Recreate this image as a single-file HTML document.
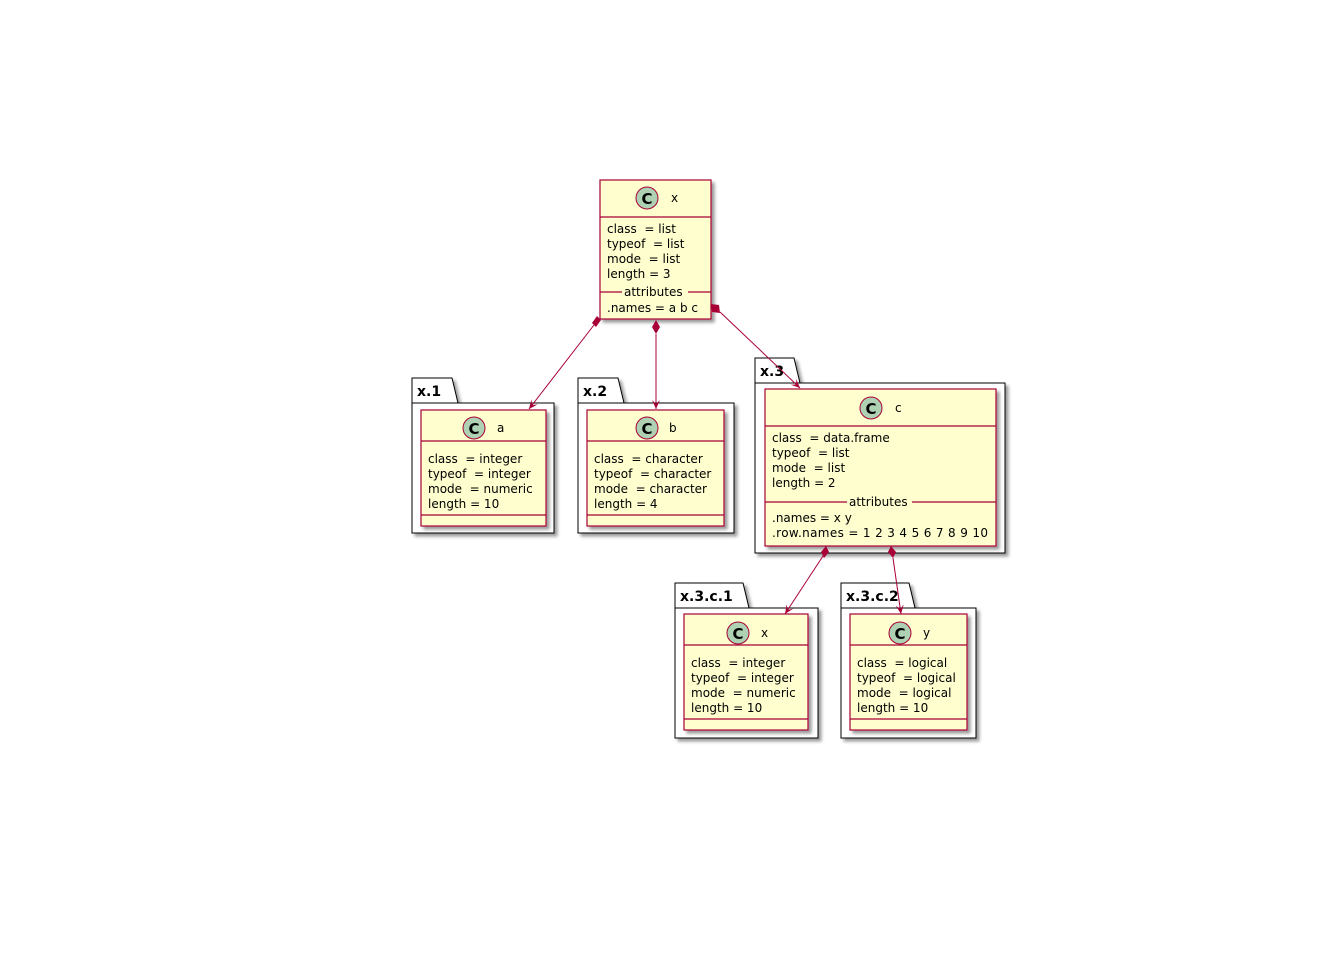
<!DOCTYPE html>
<html><head><meta charset="utf-8"><style>
html,body{margin:0;padding:0;background:#fff;}
svg{display:block;}
text{font-family:"DejaVu Sans","Liberation Sans",sans-serif;font-size:12px;fill:#000;white-space:pre;}
.pk{font-weight:bold;font-size:14px;}
.c{font-weight:bold;font-size:15px;}
</style></head><body>
<svg width="1344" height="960" viewBox="0 0 1344 960" xmlns="http://www.w3.org/2000/svg" xml:space="preserve">
<defs>
<filter id="sh" x="-10%" y="-10%" width="130%" height="130%"><feDropShadow dx="3" dy="3" stdDeviation="1.5" flood-color="#000" flood-opacity="0.4"/></filter>
<marker id="ar" markerWidth="10" markerHeight="10" refX="9" refY="5" orient="auto" markerUnits="userSpaceOnUse"><path d="M0,1 L9,5 L0,9 L4,5 Z" fill="#A80036"/></marker>
</defs>
<g stroke="#000" fill="#fff" stroke-width="1">
<path d="M412,378 H452 L458,403 H554 V533 H412 Z" filter="url(#sh)"/>
<line x1="412" y1="403" x2="458" y2="403"/>
<path d="M578,378 H618 L624,403 H734 V533 H578 Z" filter="url(#sh)"/>
<line x1="578" y1="403" x2="624" y2="403"/>
<path d="M755,358 H794 L800,383 H1005 V553 H755 Z" filter="url(#sh)"/>
<line x1="755" y1="383" x2="800" y2="383"/>
<path d="M675,583 H743 L749,608 H818 V738 H675 Z" filter="url(#sh)"/>
<line x1="675" y1="608" x2="749" y2="608"/>
<path d="M841,583 H909 L915,608 H976 V738 H841 Z" filter="url(#sh)"/>
<line x1="841" y1="608" x2="915" y2="608"/>
</g>
<text class="pk" x="417" y="396">x.1</text>
<text class="pk" x="583" y="396">x.2</text>
<text class="pk" x="760" y="376">x.3</text>
<text class="pk" x="680" y="601">x.3.c.1</text>
<text class="pk" x="846" y="601">x.3.c.2</text>

<g stroke="#A80036" fill="#FEFECE" stroke-width="1.2">
<rect x="600" y="180" width="111" height="139" filter="url(#sh)"/>
<rect x="421" y="410" width="125" height="116" filter="url(#sh)"/>
<rect x="587" y="410" width="137" height="116" filter="url(#sh)"/>
<rect x="765" y="389" width="231" height="157" filter="url(#sh)"/>
<rect x="684" y="614" width="124" height="116" filter="url(#sh)"/>
<rect x="850" y="614" width="117" height="116" filter="url(#sh)"/>
<line x1="600" y1="217" x2="711" y2="217"/>
<line x1="600" y1="292" x2="622" y2="292"/><line x1="688" y1="292" x2="711" y2="292"/>
<line x1="421" y1="441" x2="546" y2="441"/><line x1="421" y1="515" x2="546" y2="515"/>
<line x1="587" y1="441" x2="724" y2="441"/><line x1="587" y1="515" x2="724" y2="515"/>
<line x1="765" y1="426" x2="996" y2="426"/>
<line x1="765" y1="502" x2="847" y2="502"/><line x1="912" y1="502" x2="996" y2="502"/>
<line x1="684" y1="645" x2="808" y2="645"/><line x1="684" y1="719" x2="808" y2="719"/>
<line x1="850" y1="645" x2="967" y2="645"/><line x1="850" y1="719" x2="967" y2="719"/>
</g>
<g fill="#ADD1B2" stroke="#A80036" stroke-width="1">
<circle cx="647" cy="198" r="11"/><circle cx="474" cy="428" r="11"/>
<circle cx="647" cy="428" r="11"/><circle cx="871" cy="408" r="11"/>
<circle cx="738" cy="633" r="11"/><circle cx="900" cy="633" r="11"/>
</g>
<g text-anchor="middle">
<text class="c" x="647" y="204">C</text><text class="c" x="474" y="434">C</text>
<text class="c" x="647" y="434">C</text><text class="c" x="871" y="414">C</text>
<text class="c" x="738" y="639">C</text><text class="c" x="900" y="639">C</text>
</g>
<text x="671" y="202">x</text><text x="497" y="432">a</text><text x="669" y="432">b</text>
<text x="895" y="412">c</text><text x="761" y="637">x</text><text x="923" y="637">y</text>

<text x="607" y="233">class  = list</text><text x="607" y="248">typeof  = list</text>
<text x="607" y="263">mode  = list</text><text x="607" y="278">length = 3</text>
<text x="624" y="296">attributes</text><text x="607" y="312">.names = a b c</text>

<text x="428" y="463">class  = integer</text><text x="428" y="478">typeof  = integer</text>
<text x="428" y="493">mode  = numeric</text><text x="428" y="508">length = 10</text>

<text x="594" y="463">class  = character</text><text x="594" y="478">typeof  = character</text>
<text x="594" y="493">mode  = character</text><text x="594" y="508">length = 4</text>

<text x="772" y="442">class  = data.frame</text><text x="772" y="457">typeof  = list</text>
<text x="772" y="472">mode  = list</text><text x="772" y="487">length = 2</text>
<text x="849" y="506">attributes</text>
<text x="772" y="522">.names = x y</text><text x="772" y="537" textLength="216">.row.names = 1 2 3 4 5 6 7 8 9 10</text>

<text x="691" y="667">class  = integer</text><text x="691" y="682">typeof  = integer</text>
<text x="691" y="697">mode  = numeric</text><text x="691" y="712">length = 10</text>

<text x="857" y="667">class  = logical</text><text x="857" y="682">typeof  = logical</text>
<text x="857" y="697">mode  = logical</text><text x="857" y="712">length = 10</text>

<g stroke="#A80036" stroke-width="1" fill="none">
<line x1="594" y1="325" x2="529" y2="409" marker-end="url(#ar)"/>
<line x1="656" y1="334" x2="656" y2="409" marker-end="url(#ar)"/>
<line x1="720" y1="312" x2="800" y2="388" marker-end="url(#ar)"/>
<line x1="823" y1="556" x2="785" y2="614" marker-end="url(#ar)"/>
<line x1="893" y1="558" x2="901" y2="614" marker-end="url(#ar)"/>
</g>
<g fill="#A80036">
<path d="M597,316 L601,320 L596,327 L592,323 Z"/>
<path d="M656,320 L660,327 L656,334 L652,327 Z"/>
<path d="M711,304 L719,305 L720,313 L712,312 Z"/>
<path d="M826,546 L829,552 L824,558 L821,552 Z"/>
<path d="M891,546 L896,552 L893,558 L888,552 Z"/>
</g>
</svg>
</body></html>
